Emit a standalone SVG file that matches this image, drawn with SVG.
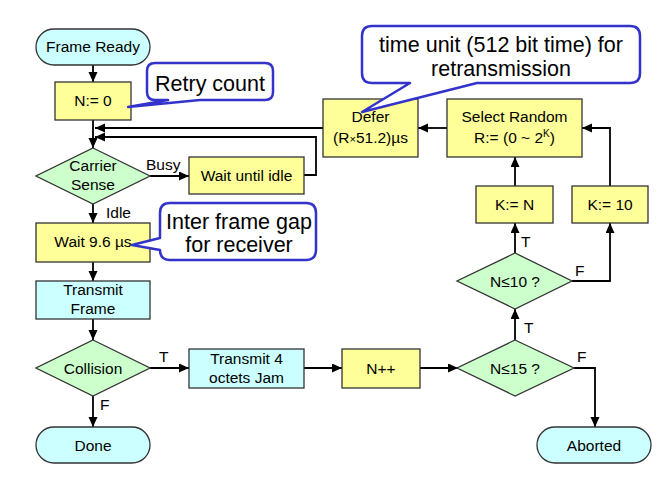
<svg xmlns="http://www.w3.org/2000/svg" width="672" height="498" viewBox="0 0 672 498">
<defs>
<style>
.t{font-family:"Liberation Sans",Arial,sans-serif;font-size:15.5px;fill:#000;text-anchor:middle}
.l{font-family:"Liberation Sans",Arial,sans-serif;font-size:15.5px;fill:#000}
.c{font-family:"Liberation Sans",Arial,sans-serif;font-size:21.5px;fill:#000;text-anchor:middle}
.y{fill:#FFFF99;stroke:#333;stroke-width:1.3}
.g{fill:#CCFFCC;stroke:#333;stroke-width:1.3}
.b{fill:#CCFFFF;stroke:#333;stroke-width:1.3}
.co{fill:#fff;stroke:#3333CC;stroke-width:2.5;stroke-linejoin:round}
.e{fill:none;stroke:#000;stroke-width:1.8}
</style>
<marker id="a" markerUnits="userSpaceOnUse" markerWidth="11" markerHeight="10" refX="10" refY="4.5" orient="auto">
<path d="M0,0 L10,4.5 L0,9 z" fill="#000"/>
</marker>
</defs>
<rect width="672" height="498" fill="#fff"/>

<g id="connectors">
<path class="e" d="M93,65 V82" marker-end="url(#a)"/>
<path class="e" d="M93,120 V148" marker-end="url(#a)"/>
<path class="e" d="M323,128 H95" marker-end="url(#a)"/>
<path class="e" d="M304,175 H316 V137 H95" marker-end="url(#a)"/>
<path class="e" d="M150,176 H189" marker-end="url(#a)"/>
<path class="e" d="M93,204 V223" marker-end="url(#a)"/>
<path class="e" d="M93,262 V281" marker-end="url(#a)"/>
<path class="e" d="M93,319 V340" marker-end="url(#a)"/>
<path class="e" d="M150,368 H189" marker-end="url(#a)"/>
<path class="e" d="M93,396 V427" marker-end="url(#a)"/>
<path class="e" d="M304,368 H342" marker-end="url(#a)"/>
<path class="e" d="M420,368 H458" marker-end="url(#a)"/>
<path class="e" d="M574,368 H595 V427" marker-end="url(#a)"/>
<path class="e" d="M515,340 V309" marker-end="url(#a)"/>
<path class="e" d="M515,253 V223" marker-end="url(#a)"/>
<path class="e" d="M572,281 H610 V223" marker-end="url(#a)"/>
<path class="e" d="M515,186 V157" marker-end="url(#a)"/>
<path class="e" d="M610,186 V128 H582" marker-end="url(#a)"/>
<path class="e" d="M447,128 H418" marker-end="url(#a)"/>
<text class="l" x="146" y="170">Busy</text>
<text class="l" x="106" y="218">Idle</text>
<text class="l" x="159" y="362">T</text>
<text class="l" x="100" y="410">F</text>
<text class="l" x="524" y="333">T</text>
<text class="l" x="577" y="362">F</text>
<text class="l" x="521" y="247">T</text>
<text class="l" x="575" y="276">F</text>
</g>

<g id="frame-ready">
<rect class="b" x="36" y="29" width="114" height="36" rx="18"/>
<text class="t" x="93" y="52">Frame Ready</text>
</g>
<g id="n-zero">
<rect class="y" x="55" y="82" width="76" height="38"/>
<text class="t" x="93" y="106">N:= 0</text>
</g>
<g id="carrier-sense">
<path class="g" d="M93,148 L150,176 L93,204 L36,176 z"/>
<text class="t" x="93" y="171">Carrier</text>
<text class="t" x="93" y="190">Sense</text>
</g>
<g id="wait-idle">
<rect class="y" x="189" y="157" width="115" height="37"/>
<text class="t" x="246.5" y="181">Wait until idle</text>
</g>
<g id="wait-96">
<rect class="y" x="36" y="223" width="114" height="39"/>
<text class="t" x="93" y="247">Wait 9.6 µs</text>
</g>
<g id="transmit-frame">
<rect class="b" x="36" y="281" width="114" height="38"/>
<text class="t" x="93" y="295">Transmit</text>
<text class="t" x="93" y="314">Frame</text>
</g>
<g id="collision">
<path class="g" d="M93,340 L150,368 L93,396 L36,368 z"/>
<text class="t" x="93" y="374">Collision</text>
</g>
<g id="done">
<rect class="b" x="36" y="427" width="114" height="36" rx="18"/>
<text class="t" x="93" y="451">Done</text>
</g>
<g id="jam">
<rect class="b" x="189" y="349" width="115" height="39"/>
<text class="t" x="246.5" y="364">Transmit 4</text>
<text class="t" x="246.5" y="383">octets Jam</text>
</g>
<g id="n-inc">
<rect class="y" x="342" y="349" width="78" height="39"/>
<text class="t" x="381" y="374">N++</text>
</g>
<g id="n-le-15">
<path class="g" d="M515,340 L574,368 L515,396 L457,368 z"/>
<text class="t" x="515" y="374">N≤15 ?</text>
</g>
<g id="aborted">
<rect class="b" x="537" y="427" width="114" height="36" rx="18"/>
<text class="t" x="594" y="451">Aborted</text>
</g>
<g id="n-le-10">
<path class="g" d="M515,253 L572,281 L515,309 L457,281 z"/>
<text class="t" x="515" y="287">N≤10 ?</text>
</g>
<g id="k-n">
<rect class="y" x="476" y="186" width="77" height="37"/>
<text class="t" x="514.5" y="210">K:= N</text>
</g>
<g id="k-10">
<rect class="y" x="572" y="186" width="76" height="37"/>
<text class="t" x="610" y="210">K:= 10</text>
</g>
<g id="select-random">
<rect class="y" x="447" y="99" width="135" height="58"/>
<text class="t" x="514.5" y="122">Select Random</text>
<text class="t" x="514.5" y="143">R:= (0 ~ 2<tspan font-size="10" dy="-6">K</tspan><tspan dy="6">)</tspan></text>
</g>
<g id="defer">
<rect class="y" x="323" y="99" width="95" height="58"/>
<text class="t" x="370.5" y="122">Defer</text>
<text class="t" x="370.5" y="143">(R<tspan font-size="11">×</tspan>51.2)µs</text>
</g>

<g id="callout-retry">
<path class="co" d="M155,63 H265 Q273,63 273,71 V92 Q273,100 265,100 H200 L128,107 L168,100 H155 Q147,100 147,92 V71 Q147,63 155,63 z"/>
<text class="c" x="210" y="91">Retry count</text>
</g>
<g id="callout-ifg">
<path class="co" d="M170,203 H306 Q316,203 316,213 V250 Q316,260 306,260 H170 Q160,260 160,250 L132,245 L160,238 V213 Q160,203 170,203 z"/>
<text class="c" x="239" y="229">Inter frame gap</text>
<text class="c" x="239" y="252">for receiver</text>
</g>
<g id="callout-time">
<path class="co" d="M372,26 H630 Q640,26 640,36 V73 Q640,83 630,83 H477 L362,112 L410,83 H372 Q362,83 362,73 V36 Q362,26 372,26 z"/>
<text class="c" x="501" y="52">time unit (512 bit time) for</text>
<text class="c" x="501" y="76">retransmission</text>
</g>
</svg>
